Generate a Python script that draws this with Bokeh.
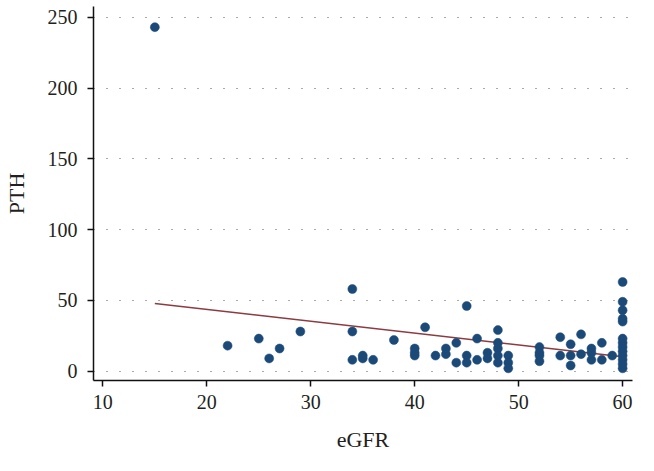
from bokeh.plotting import figure
from bokeh.models import Range1d, FixedTicker
from bokeh.embed import file_html
from bokeh.resources import INLINE

# ---- data ----
egfr = [15,
        22, 25, 26, 27, 29,
        34, 34, 34, 35, 35, 36, 38,
        40, 40, 40, 41, 42, 43, 43,
        44, 44, 45, 45, 45, 46, 46, 47, 47,
        48, 48, 48, 48, 48, 49, 49, 49,
        52, 52, 52, 52, 54, 54, 55, 55, 55, 56, 56,
        57, 57, 57, 58, 58, 59,
        60, 60, 60, 60, 60, 60, 60, 60, 60, 60, 60, 60, 60]
pth = [243,
       18, 23, 9, 16, 28,
       58, 28, 8, 11, 9, 8, 22,
       16, 13, 11, 31, 11, 16, 12,
       20, 6, 46, 11, 6, 23, 8, 13, 9,
       29, 20, 16, 11, 6, 11, 6, 2,
       17, 13, 11, 7, 24, 11, 19, 11, 4, 26, 12,
       16, 13, 8, 20, 8, 11,
       63, 49, 43, 37, 35, 23, 20, 17, 14, 11, 8, 5, 2]

# fitted regression line endpoints
fit_x = [15, 60]
fit_y = [47.8, 10.1]

x_ticks = [10, 20, 30, 40, 50, 60]
y_ticks = [0, 50, 100, 150, 200, 250]

FONT = "Liberation Serif"
TXT = "#231f20"

p = figure(width=638, height=456, output_backend="svg", toolbar_location=None,
           x_range=Range1d(9.1, 60.95), y_range=Range1d(-6.6, 257.6),
           min_border_left=88, min_border_right=6, min_border_top=6,
           min_border_bottom=76)
p.outline_line_color = None
p.background_fill_color = "white"
p.border_fill_color = "white"

p.xgrid.grid_line_color = None
p.ygrid.grid_line_color = "#555555"
p.ygrid.grid_line_width = 1.2
p.ygrid.grid_line_dash = "1 12"

p.xaxis.ticker = FixedTicker(ticks=x_ticks)
p.yaxis.ticker = FixedTicker(ticks=y_ticks)

for ax in (p.xaxis, p.yaxis):
    ax.axis_line_color = "#111111"
    ax.axis_line_width = 1.5
    ax.major_tick_line_color = "#111111"
    ax.major_tick_line_width = 1.5
    ax.major_tick_out = 6
    ax.major_tick_in = 0
    ax.minor_tick_line_color = None
    ax.major_label_text_font = FONT
    ax.major_label_text_font_size = "20px"
    ax.major_label_text_color = TXT
    ax.axis_label_text_font = FONT
    ax.axis_label_text_font_size = "22px"
    ax.axis_label_text_font_style = "normal"
    ax.axis_label_text_color = TXT

p.xaxis.axis_label = "eGFR"
p.yaxis.axis_label = "PTH"
p.xaxis.major_label_standoff = 8
p.xaxis.axis_label_standoff = 15
p.yaxis.major_label_standoff = 10
p.yaxis.axis_label_standoff = 16

p.line(fit_x, fit_y, line_color="#8c3b40", line_width=1.5)
p.scatter(egfr, pth, marker="circle", size=9, fill_color="#1c4a78",
          line_color="#1c4a78", line_width=0.5)

open("out.html", "w").write(file_html(p, INLINE))
